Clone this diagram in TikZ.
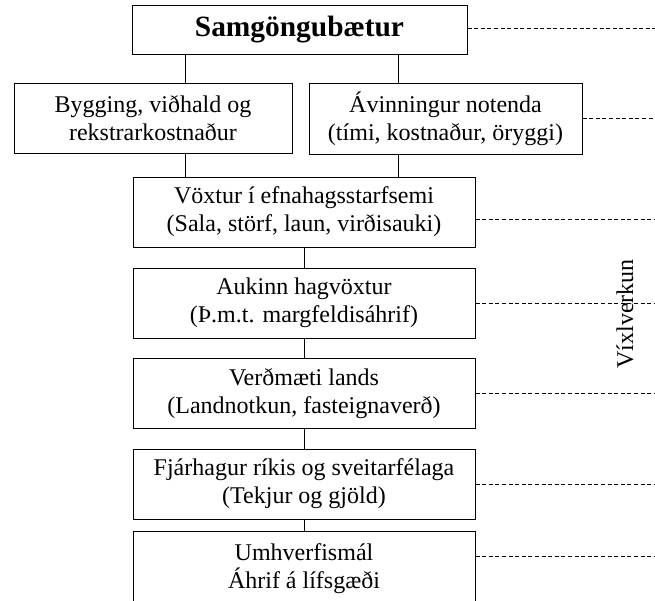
\documentclass[tikz,border=0pt]{standalone}
\usepackage{fontspec}
\setmainfont{Liberation Serif}
\tikzset{
	boks/.style={draw, line width=0.5pt, align=center, inner sep=0pt, fill=white, font=\fontsize{12}{14}\selectfont},
	midboks/.style={boks, minimum width=171pt, minimum height=35pt},
	tengi/.style={line width=0.5pt},
	strik/.style={line width=0.5pt, dash pattern=on 2pt off 1.3pt}
}
\begin{document}
\begin{tikzpicture}[x=0.5pt, y=-0.5pt]
		\useasboundingbox (0,0) rectangle (655,601);

		\node[boks, minimum width=167.5pt, minimum height=24.5pt, font=\fontsize{14.7}{17}\selectfont\bfseries] (top) at (299.5,29.5) {Samgöngubætur};
		\node[boks, minimum width=139pt, minimum height=35pt] (byg) at (153,118) {Bygging, viðhald og\\rekstrarkostnaður};
		\node[boks, minimum width=136.5pt, minimum height=35.5pt] (avi) at (445.5,118.5) {Ávinningur notenda\\(tími, kostnaður, öryggi)};

		\node[midboks] (vox) at (304,212) {Vöxtur í efnahagsstarfsemi\\(Sala, störf, laun, virðisauki)};
		\node[midboks] (auk) at (304,303) {Aukinn hagvöxtur\\(Þ.m.t. margfeldisáhrif)};
		\node[midboks] (verd) at (304,393.5) {Verðmæti lands\\(Landnotkun, fasteignaverð)};
		\node[midboks] (fjar) at (304,484) {Fjárhagur ríkis og sveitarfélaga\\(Tekjur og gjöld)};
		\node[midboks, minimum height=38pt] (umh) at (304,569) {Umhverfismál\\Áhrif á lífsgæði};

		\node[rotate=90, inner sep=0pt, font=\fontsize{12}{14}\selectfont] (vix) at (625,314) {Víxlverkun};

		\coordinate (lx) at (185,0);
		\coordinate (rx) at (398,0);
		\coordinate (edge) at (655,0);

		\draw[tengi] (top.south -| lx) -- (byg.north -| lx);
		\draw[tengi] (top.south -| rx) -- (avi.north -| rx);
		\draw[tengi] (byg.south -| lx) -- (vox.north -| lx);
		\draw[tengi] (avi.south -| rx) -- (vox.north -| rx);
		\draw[tengi] (vox.south) -- (auk.north);
		\draw[tengi] (auk.south) -- (verd.north);
		\draw[tengi] (verd.south) -- (fjar.north);
		\draw[tengi] (fjar.south) -- (umh.north);

		\draw[strik] ([yshift=0.75pt]top.east) -- ([yshift=0.75pt]top.east -| edge);
		\draw[strik] (avi.east) -- (avi.east -| edge);
		\draw[strik] ([yshift=-3.5pt]vox.east) -- ([yshift=-3.5pt]vox.east -| edge);
		\draw[strik] (auk.east) -- (auk.east -| edge);
		\draw[strik] (verd.east) -- (verd.east -| edge);
		\draw[strik] (fjar.east) -- (fjar.east -| edge);
		\draw[strik] ([yshift=6.5pt]umh.east) -- ([yshift=6.5pt]umh.east -| edge);
\end{tikzpicture}
\end{document}
